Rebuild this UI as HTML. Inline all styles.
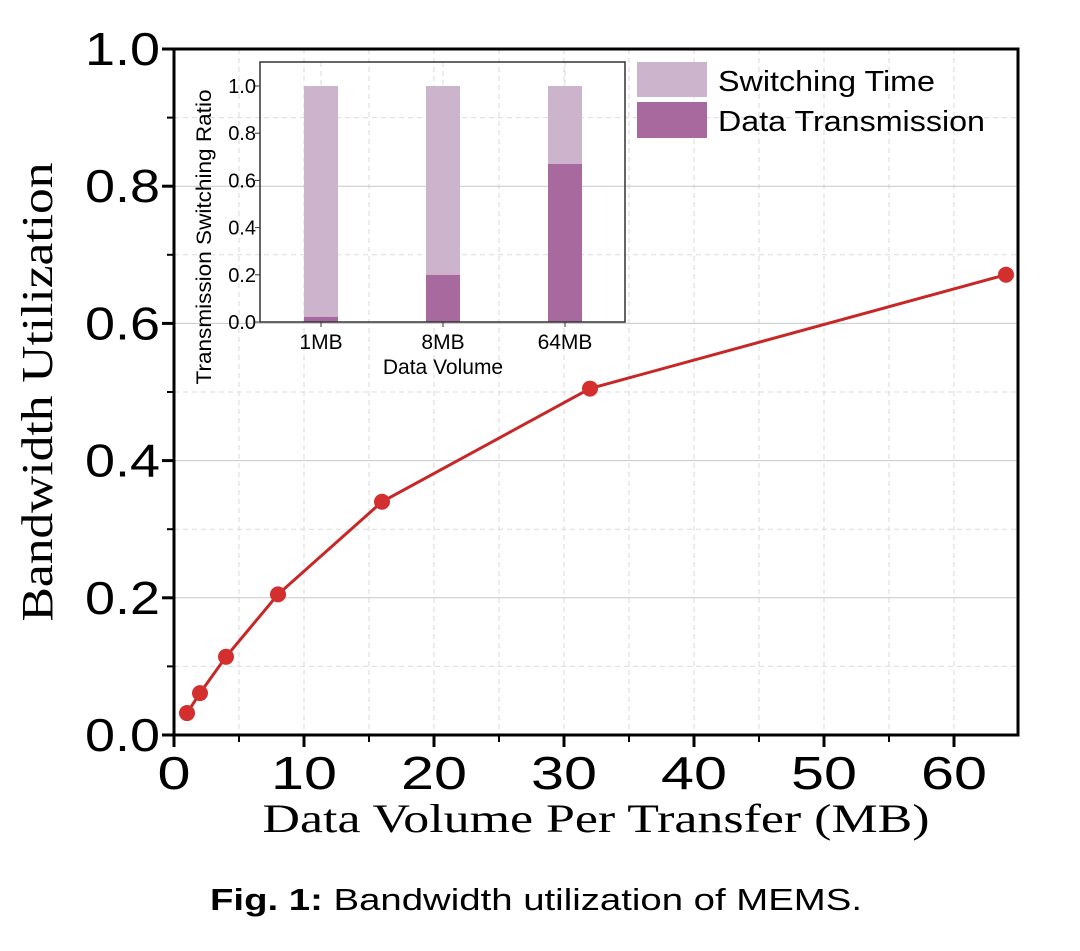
<!DOCTYPE html>
<html><head><meta charset="utf-8"><style>
body{margin:0;background:#fff;width:1080px;height:951px;overflow:hidden}
svg{display:block}
</style></head><body>
<svg width="1080" height="951" xmlns="http://www.w3.org/2000/svg">
<g id="grid"></g>
<g id="main"></g>
<g id="inset"></g>
<g font-family="Liberation Sans, sans-serif" font-size="29">
<rect x="637" y="62" width="70" height="35" fill="#cdb4cd"/>
<text x="718" y="91" textLength="217" lengthAdjust="spacingAndGlyphs">Switching Time</text>
<rect x="637" y="102" width="70" height="36" fill="#a8699f"/>
<text x="718" y="131" textLength="267" lengthAdjust="spacingAndGlyphs">Data Transmission</text>
</g>
<text x="52" y="392" transform="rotate(-90 52 392)" text-anchor="middle" font-family="Liberation Serif, serif" font-size="44" textLength="459" lengthAdjust="spacingAndGlyphs">Bandwidth Utilization</text>
<text x="596" y="832" text-anchor="middle" font-family="Liberation Serif, serif" font-size="40" textLength="667" lengthAdjust="spacingAndGlyphs">Data Volume Per Transfer (MB)</text>
<text x="536" y="910" text-anchor="middle" font-family="Liberation Sans, sans-serif" font-size="31" textLength="652" lengthAdjust="spacingAndGlyphs"><tspan font-weight="bold">Fig. 1:</tspan> Bandwidth utilization of MEMS.</text>
</svg>
<script>
const xs=[1,2,4,8,16,32,64];
const util=[0.032,0.061,0.114,0.205,0.34,0.505,0.671];
const xTicks=[0,10,20,30,40,50,60];
const yTicks=[0.0,0.2,0.4,0.6,0.8,1.0];
const insetCats=['1MB','8MB','64MB'];
const insetTrans=[0.022,0.2,0.67];
const insetSwitch=[0.978,0.8,0.33];
const insetTicks=[0.0,0.2,0.4,0.6,0.8,1.0];
const NS='http://www.w3.org/2000/svg';
const L=174,R=1018,T=49,B=735;
const X=v=>L+v*13,Y=v=>B-v*(B-T);
function mk(p,t,a){const e=document.createElementNS(NS,t);for(const k in a)e.setAttribute(k,a[k]);p.appendChild(e);return e;}
const grid=document.getElementById('grid'),main=document.getElementById('main'),ins=document.getElementById('inset');
for(let v=5;v<65;v+=5){const l=mk(grid,'line',{x1:X(v),x2:X(v),y1:T,y2:B,stroke:'#d8d8d8','stroke-dasharray':'5,4','stroke-width':1});

}
for(let i=1;i<10;i++){const v=i/10;const l=mk(grid,'line',{x1:L,x2:R,y1:Y(v),y2:Y(v),stroke:i%2?'#dcdcdc':'#c8c8c8','stroke-dasharray':i%2?'5,4':'none','stroke-width':1});

}
const frame=mk(main,'rect',{x:L,y:T,width:R-L,height:B-T,fill:'none',stroke:'#000','stroke-width':3});


xTicks.forEach(v=>{mk(main,'line',{x1:X(v),x2:X(v),y1:B,y2:B+12,stroke:'#000','stroke-width':3});
const s=String(v);
const t=mk(main,'text',{x:X(v),y:B+54,'text-anchor':'middle','font-family':'Liberation Sans, sans-serif','font-size':46,textLength:s.length*33,lengthAdjust:'spacingAndGlyphs'});t.textContent=s;

});
for(let v=5;v<65;v+=10)mk(main,'line',{x1:X(v),x2:X(v),y1:B,y2:B+7,stroke:'#000','stroke-width':2});
yTicks.forEach(v=>{mk(main,'line',{x1:L-12,x2:L,y1:Y(v),y2:Y(v),stroke:'#000','stroke-width':3});
const t=mk(main,'text',{x:L-14,y:Y(v)+16,'text-anchor':'end','font-family':'Liberation Sans, sans-serif','font-size':46,textLength:75,lengthAdjust:'spacingAndGlyphs'});t.textContent=v.toFixed(1);

});
for(let i=1;i<10;i+=2)mk(main,'line',{x1:L-7,x2:L,y1:Y(i/10),y2:Y(i/10),stroke:'#000','stroke-width':2});
const line=mk(main,'polyline',{points:xs.map((x,i)=>X(x)+','+Y(util[i])).join(' '),fill:'none',stroke:'#c62828','stroke-width':3});


xs.forEach((x,i)=>{const c=mk(main,'circle',{cx:X(x),cy:Y(util[i]),r:8,fill:'#d32f2f'});

});
const iL=260,iR=625,iT=62,iB=322,iY=v=>iB-v*236,cx=[321,443,565],bw=34;
insetCats.forEach((c,i)=>{mk(ins,'line',{x1:cx[i],x2:cx[i],y1:iT,y2:iB,stroke:'#d8d8d8','stroke-dasharray':'5,4'});
const b1=mk(ins,'rect',{x:cx[i]-bw/2,y:iY(insetTrans[i]+insetSwitch[i]),width:bw,height:iY(insetTrans[i])-iY(insetTrans[i]+insetSwitch[i]),fill:'#cdb4cd'});


const b2=mk(ins,'rect',{x:cx[i]-bw/2,y:iY(insetTrans[i]),width:bw,height:iB-iY(insetTrans[i]),fill:'#a8699f'});


mk(ins,'line',{x1:cx[i],x2:cx[i],y1:iB,y2:iB+5,stroke:'#333'});
const t=mk(ins,'text',{x:cx[i],y:iB+27,'text-anchor':'middle','font-family':'Liberation Sans, sans-serif','font-size':21});t.textContent=c;

});
const ifr=mk(ins,'rect',{x:iL,y:iT,width:iR-iL,height:iB-iT,fill:'none',stroke:'#333','stroke-width':1.5});


insetTicks.forEach(v=>{mk(ins,'line',{x1:iL-5,x2:iL,y1:iY(v),y2:iY(v),stroke:'#333'});
const t=mk(ins,'text',{x:iL-4,y:iY(v)+7,'text-anchor':'end','font-family':'Liberation Sans, sans-serif','font-size':20});t.textContent=v.toFixed(1);

});
const ix=mk(ins,'text',{x:443,y:374,'text-anchor':'middle','font-family':'Liberation Sans, sans-serif','font-size':21});ix.textContent='Data Volume';


const iy=mk(ins,'text',{x:211,y:237,'text-anchor':'middle','font-family':'Liberation Sans, sans-serif','font-size':21,textLength:295,lengthAdjust:'spacingAndGlyphs',transform:'rotate(-90 211 237)'});iy.textContent='Transmission Switching Ratio';


</script>
</body></html>
